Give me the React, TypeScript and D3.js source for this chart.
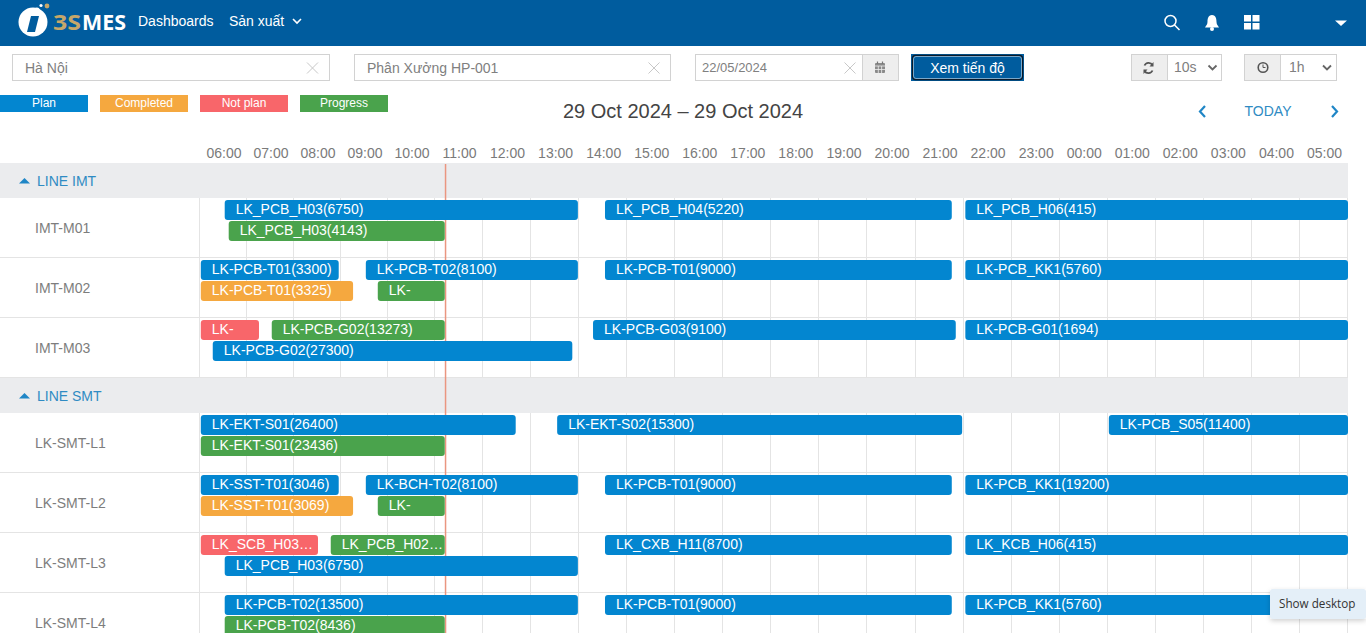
import React, { useRef, useEffect } from 'react';
import * as d3 from 'd3';

type Task = [string, string, string, string]; // row, label, start, end

const groups = ['LINE IMT', 'LINE SMT'];
const rowsByGroup = [
  ['IMT-M01', 'IMT-M02', 'IMT-M03'],
  ['LK-SMT-L1', 'LK-SMT-L2', 'LK-SMT-L3', 'LK-SMT-L4'],
];

const legendNames = ['Plan', 'Completed', 'Not plan', 'Progress'];
const statusColors = ['#0386d0', '#f5a83f', '#f8666a', '#4aa34c'];

const domainStart = '29 06:00';
const domainEnd = '30 06:00';
const columnBreak = '29 11:00'; // the table columns change from 47px to 48px here
const nowTime = '29 11:08';

const planTasks: Task[] = [
  ['IMT-M01', 'LK_PCB_H03(6750)', '29 06:31', '29 13:54'],
  ['IMT-M01', 'LK_PCB_H04(5220)', '29 14:28', '29 21:43'],
  ['IMT-M01', 'LK_PCB_H06(415)', '29 22:00', '30 06:00'],
  ['IMT-M02', 'LK-PCB-T01(3300)', '29 06:01', '29 08:54'],
  ['IMT-M02', 'LK-PCB-T02(8100)', '29 09:28', '29 13:54'],
  ['IMT-M02', 'LK-PCB-T01(9000)', '29 14:28', '29 21:43'],
  ['IMT-M02', 'LK-PCB_KK1(5760)', '29 22:00', '30 06:00'],
  ['IMT-M03', 'LK-PCB-G02(27300)', '29 06:16', '29 13:47'],
  ['IMT-M03', 'LK-PCB-G03(9100)', '29 14:13', '29 21:48'],
  ['IMT-M03', 'LK-PCB-G01(1694)', '29 22:00', '30 06:00'],
  ['LK-SMT-L1', 'LK-EKT-S01(26400)', '29 06:01', '29 12:36'],
  ['LK-SMT-L1', 'LK-EKT-S02(15300)', '29 13:28', '29 21:56'],
  ['LK-SMT-L1', 'LK-PCB_S05(11400)', '30 01:00', '30 06:00'],
  ['LK-SMT-L2', 'LK-SST-T01(3046)', '29 06:01', '29 08:54'],
  ['LK-SMT-L2', 'LK-BCH-T02(8100)', '29 09:28', '29 13:54'],
  ['LK-SMT-L2', 'LK-PCB-T01(9000)', '29 14:28', '29 21:43'],
  ['LK-SMT-L2', 'LK-PCB_KK1(19200)', '29 22:00', '30 06:00'],
  ['LK-SMT-L3', 'LK_PCB_H03(6750)', '29 06:31', '29 13:54'],
  ['LK-SMT-L3', 'LK_CXB_H11(8700)', '29 14:28', '29 21:43'],
  ['LK-SMT-L3', 'LK_KCB_H06(415)', '29 22:00', '30 06:00'],
  ['LK-SMT-L4', 'LK-PCB-T02(13500)', '29 06:31', '29 13:54'],
  ['LK-SMT-L4', 'LK-PCB-T01(9000)', '29 14:28', '29 21:43'],
  ['LK-SMT-L4', 'LK-PCB_KK1(5760)', '29 22:00', '30 06:00'],
];

const completedTasks: Task[] = [
  ['IMT-M02', 'LK-PCB-T01(3325)', '29 06:01', '29 09:12'],
  ['LK-SMT-L2', 'LK-SST-T01(3069)', '29 06:01', '29 09:12'],
];

const notPlanTasks: Task[] = [
  ['IMT-M03', 'LK-', '29 06:01', '29 07:14'],
  ['LK-SMT-L3', 'LK_SCB_H03…', '29 06:01', '29 08:28'],
];

const progressTasks: Task[] = [
  ['IMT-M01', 'LK_PCB_H03(4143)', '29 06:36', '29 11:07'],
  ['IMT-M02', 'LK-', '29 09:43', '29 11:07'],
  ['IMT-M03', 'LK-PCB-G02(13273)', '29 07:30', '29 11:07'],
  ['LK-SMT-L1', 'LK-EKT-S01(23436)', '29 06:01', '29 11:07'],
  ['LK-SMT-L2', 'LK-', '29 09:43', '29 11:07'],
  ['LK-SMT-L3', 'LK_PCB_H02…', '29 08:44', '29 11:07'],
  ['LK-SMT-L4', 'LK-PCB-T02(8436)', '29 06:31', '29 11:07'],
];

const FONT = '"Liberation Sans", Arial, sans-serif';
const NAVY = '#005c9e';
const parseTime = d3.utcParse('%d %H:%M');
const t = (s: string) => parseTime(s) as Date;

const Input = ({ x, w, label }: { x: number; w: number; label: string }) => (
  <g>
    <rect x={x + 0.5} y={54.5} width={w} height={26} fill="#fff" stroke="#d2d2d2" />
    <text x={x + 13} y={73} fontSize={14} fill="#808080">{label}</text>
  </g>
);

const Cross = ({ x }: { x: number }) => (
  <path d={`M${x - 5.5} 62.5L${x + 5.5} 73.5M${x + 5.5} 62.5L${x - 5.5} 73.5`} stroke="#c8c8c8" fill="none" />
);

const Chevron = ({ x }: { x: number }) => (
  <path d={`M${x - 4} 65.5L${x} 69.5L${x + 4} 65.5`} stroke="#666" strokeWidth={1.8} fill="none" />
);

export default function App() {
  const chart = useRef<SVGGElement>(null);

  useEffect(() => {
    if (!chart.current) return;
    const root = d3.select(chart.current);
    root.selectAll('*').remove();

    const x = d3.scaleUtc().domain([t(domainStart), t(domainEnd)]).range([200, 1348]);
    // grid columns are whole pixels, so they need their own scale
    const colX = d3
      .scaleUtc()
      .domain([t(domainStart), t(columnBreak), t(domainEnd)])
      .range([200, 435, 1348]);
    const hours = x.ticks(d3.utcHour.every(1) as d3.TimeInterval);

    // rows and group headers stacked from the top of the table
    const headerH = 35;
    const rowH = 60;
    const layout: { name: string; y: number; header: boolean }[] = [];
    let yPos = 163;
    groups.forEach((g, i) => {
      layout.push({ name: g, y: yPos, header: true });
      yPos += headerH;
      rowsByGroup[i].forEach(r => {
        layout.push({ name: r, y: yPos, header: false });
        yPos += rowH;
      });
    });
    const rowTop = new Map(layout.filter(d => !d.header).map(d => [d.name, d.y]));

    // time axis, labels sit in the middle of each hour column
    const axis = root
      .append('g')
      .attr('transform', 'translate(0,158)')
      .call(
        d3
          .axisTop(colX)
          .tickValues(hours.slice(0, -1))
          .tickSize(0)
          .tickFormat(d3.utcFormat('%H:%M') as any)
      );
    axis.select('.domain').remove();
    axis
      .selectAll<SVGTextElement, Date>('text')
      .attr('x', d => (colX(d3.utcHour.offset(d, 1)) - colX(d)) / 2)
      .attr('y', 0)
      .attr('dy', 0)
      .style('font', `14px ${FONT}`)
      .style('fill', '#7a7a7a');

    root
      .append('g')
      .selectAll('line')
      .data(hours)
      .enter()
      .append('line')
      .attr('x1', d => Math.round(colX(d)) - 0.5)
      .attr('x2', d => Math.round(colX(d)) - 0.5)
      .attr('y1', 164)
      .attr('y2', 633)
      .attr('stroke', '#e4e4e4');

    root
      .append('g')
      .selectAll('line')
      .data(layout.filter(d => !d.header))
      .enter()
      .append('line')
      .attr('x1', 0)
      .attr('x2', 1348)
      .attr('y1', d => d.y + rowH - 0.5)
      .attr('y2', d => d.y + rowH - 0.5)
      .attr('stroke', '#e4e4e4');

    const headers = root
      .append('g')
      .selectAll('g')
      .data(layout.filter(d => d.header))
      .enter()
      .append('g');
    headers
      .append('rect')
      .attr('x', 0)
      .attr('y', d => d.y)
      .attr('width', 1348)
      .attr('height', headerH)
      .attr('fill', '#ebecee');
    headers
      .append('path')
      .attr('d', d => `M19 ${d.y + 20.5}L24.5 ${d.y + 15}L30 ${d.y + 20.5}Z`)
      .attr('fill', '#1f86c6');
    headers
      .append('text')
      .attr('x', 37)
      .attr('y', d => d.y + 23)
      .style('font', `14px ${FONT}`)
      .style('fill', '#2f8bc3')
      .text(d => d.name);

    root
      .append('g')
      .selectAll('text')
      .data(layout.filter(d => !d.header))
      .enter()
      .append('text')
      .attr('x', 35)
      .attr('y', d => d.y + 35)
      .style('font', `14px ${FONT}`)
      .style('fill', '#7d7d7d')
      .text(d => d.name);

    root
      .append('line')
      .attr('x1', x(t(nowTime)))
      .attr('x2', x(t(nowTime)))
      .attr('y1', 164)
      .attr('y2', 633)
      .attr('stroke', '#ea9680')
      .attr('stroke-width', 1.5);

    // a task takes the first lane of its row that is free when it starts
    const all = [planTasks, completedTasks, notPlanTasks, progressTasks].flatMap((list, status) =>
      list.map(([row, label, start, end]) => ({ row, label, start: t(start), end: t(end), status, lane: 0 }))
    );
    const sorted = d3.sort(all, d => +d.start);
    const laneEnds = new Map<string, number[]>();
    sorted.forEach(d => {
      const ends = laneEnds.get(d.row) ?? [];
      let lane = ends.findIndex(e => e <= +d.start);
      if (lane < 0) lane = ends.length;
      ends[lane] = +d.end;
      laneEnds.set(d.row, ends);
      d.lane = lane;
    });

    const barH = 20;
    const laneStep = 21;
    const bars = root
      .append('g')
      .selectAll('g')
      .data(sorted)
      .enter()
      .append('g')
      .attr('transform', d => `translate(${x(d.start)},${(rowTop.get(d.row) as number) + 2 + d.lane * laneStep})`);
    bars
      .append('rect')
      .attr('width', d => x(d.end) - x(d.start))
      .attr('height', barH)
      .attr('rx', 3)
      .attr('fill', d => statusColors[d.status]);
    bars
      .append('text')
      .attr('x', 11)
      .attr('y', 14)
      .style('font', `14px ${FONT}`)
      .style('fill', '#fff')
      .text(d => d.label);
  }, []);

  return (
    <svg
      width={1366}
      height={633}
      viewBox="0 0 1366 633"
      style={{ position: 'absolute', left: 0, top: 0, display: 'block', background: '#fff', fontFamily: FONT }}
    >
      {/* top bar */}
      <rect width={1366} height={46} fill={NAVY} />
      <circle cx={33} cy={22} r={14.5} fill="#fff" />
      <path d="M31 16H39L35 32H27Z" fill={NAVY} />
      <circle cx={37} cy={10} r={2.6} fill="#fff" />
      <circle cx={47} cy={6} r={2.4} fill="#c5a76a" />
      <circle cx={41} cy={5.5} r={1.6} fill="#fff" />
      <text x={53} y={30} fontSize={21} fontWeight={700} fill="#c5a76a" textLength={28} lengthAdjust="spacingAndGlyphs" style={{ fontFamily: '"Open Sans", sans-serif' }}>3S</text>
      <text x={82} y={30} fontSize={21} fontWeight={700} fill="#fff" textLength={44} lengthAdjust="spacingAndGlyphs" style={{ fontFamily: '"Open Sans", sans-serif' }}>MES</text>
      <text x={138} y={26} fontSize={14} fill="#fff">Dashboards</text>
      <text x={229} y={26} fontSize={14} fill="#fff">Sản xuất</text>
      <path d="M293 19L297 23L301 19" stroke="#fff" strokeWidth={1.6} fill="none" />
      <circle cx={1170.5} cy={21} r={5.5} stroke="#fff" strokeWidth={1.5} fill="none" />
      <path d="M1174.5 25L1179.5 30" stroke="#fff" strokeWidth={1.6} />
      <path d="M1212 15C1208 15 1207.5 19 1207.5 22C1207.5 25 1205.5 26 1205 27.5H1219C1218.5 26 1216.5 25 1216.5 22C1216.5 19 1216 15 1212 15Z" fill="#fff" />
      <circle cx={1212} cy={29} r={2} fill="#fff" />
      <rect x={1244} y={15} width={7} height={6.5} fill="#fff" />
      <rect x={1252.5} y={15} width={7} height={6.5} fill="#fff" />
      <rect x={1244} y={23} width={7} height={6.5} fill="#fff" />
      <rect x={1252.5} y={23} width={7} height={6.5} fill="#fff" />
      <path d="M1335 20.5H1347L1341 26Z" fill="#fff" />

      {/* filters */}
      <Input x={12} w={317} label="Hà Nội" />
      <Cross x={312.5} />
      <Input x={354} w={316} label="Phân Xưởng HP-001" />
      <Cross x={654} />
      <rect x={695.5} y={54.5} width={203} height={26} fill="#fff" stroke="#d2d2d2" />
      <rect x={862.5} y={54.5} width={36} height={26} fill="#eee" stroke="#d2d2d2" />
      <text x={702} y={72} fontSize={13} fill="#808080">22/05/2024</text>
      <Cross x={850} />
      <rect x={875} y={63} width={10} height={10} rx={1} fill="#8a8a8a" />
      <path d="M875 66H885M878.3 66V73M881.6 66V73M875 69.5H885" stroke="#eee" strokeWidth={0.8} />
      <path d="M877.5 61.5V64M882.5 61.5V64" stroke="#777" strokeWidth={1.2} />

      <rect x={911} y={54} width={113} height={27} fill={NAVY} />
      <rect x={912.5} y={55.5} width={110} height={24} rx={3} fill={NAVY} stroke="#0a1a2a" strokeWidth={1.4} />
      <rect x={913.5} y={56.5} width={108} height={22} rx={2.5} fill={NAVY} stroke="#cfe0ee" strokeWidth={0.6} />
      <text x={967.5} y={73} fontSize={14} fill="#fff" textAnchor="middle">Xem tiến độ</text>

      <rect x={1131.5} y={54.5} width={90} height={26} fill="#fff" stroke="#d2d2d2" />
      <rect x={1131.5} y={54.5} width={36} height={26} fill="#eee" stroke="#d2d2d2" />
      <path d="M1144.5 65.5A4.5 4.5 0 0 1 1152.5 65M1152.5 70.5A4.5 4.5 0 0 1 1144.5 71" stroke="#555" strokeWidth={1.8} fill="none" />
      <path d="M1153.5 62V66.5H1149.5ZM1143.5 74V69.5H1147.5Z" fill="#555" />
      <text x={1174} y={72} fontSize={14} fill="#808080">10s</text>
      <Chevron x={1212.5} />
      <rect x={1244.5} y={54.5} width={92} height={26} fill="#fff" stroke="#d2d2d2" />
      <rect x={1244.5} y={54.5} width={36} height={26} fill="#eee" stroke="#d2d2d2" />
      <circle cx={1263} cy={67.5} r={4.8} fill="none" stroke="#555" strokeWidth={1.6} />
      <path d="M1263 64.5V67.5H1265.5" stroke="#555" fill="none" />
      <text x={1289} y={72} fontSize={14} fill="#808080">1h</text>
      <Chevron x={1327} />

      {/* legend */}
      {legendNames.map((name, i) => (
        <g key={name}>
          <rect x={i * 100} y={95} width={88} height={17} fill={statusColors[i]} />
          <text x={i * 100 + 44} y={107} fontSize={12} fill="#fff" textAnchor="middle">{name}</text>
        </g>
      ))}

      {/* calendar toolbar */}
      <text x={683} y={118} fontSize={20} fill="#444" textAnchor="middle">29 Oct 2024 – 29 Oct 2024</text>
      <path d="M1205 106L1200 111.5L1205 117" stroke="#1f86c6" strokeWidth={2.2} fill="none" />
      <text x={1268} y={116} fontSize={14} fill="#2f8bc3" textAnchor="middle">TODAY</text>
      <path d="M1332 106L1337 111.5L1332 117" stroke="#1f86c6" strokeWidth={2.2} fill="none" />

      <g ref={chart} />

      {/* windows taskbar tooltip */}
      <defs>
        <filter id="tipShadow" x="-20%" y="-30%" width="140%" height="170%">
          <feDropShadow dx={0} dy={2} stdDeviation={2.5} floodColor="#000" floodOpacity={0.18} />
        </filter>
      </defs>
      <rect x={1270} y={589} width={96} height={30} rx={3} fill="#e4eff8" filter="url(#tipShadow)" />
      <text x={1279} y={608} fontSize={11.7} fill="#333" style={{ fontFamily: '"Open Sans", sans-serif' }}>Show desktop</text>
    </svg>
  );
}
